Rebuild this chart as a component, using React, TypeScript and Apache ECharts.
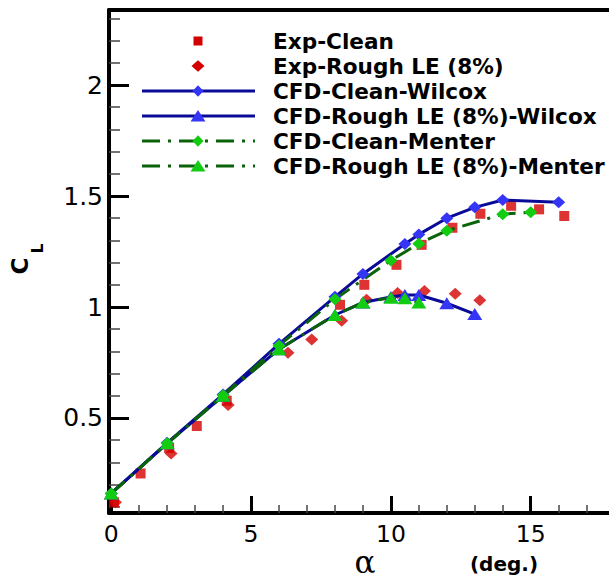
import React, { useEffect, useRef } from "react";
import * as echarts from "echarts";

const expCleanX = [0.1, 1.05, 2.07, 3.06, 4.13, 8.18, 9.05, 10.2, 11.1, 12.2, 13.2, 14.3, 15.3, 16.2];
const expCleanY = [0.12, 0.25, 0.365, 0.464, 0.578, 1.01, 1.1, 1.19, 1.28, 1.357, 1.42, 1.456, 1.44, 1.41];

const expRoughX = [0.15, 2.14, 4.18, 6.32, 7.17, 8.24, 9.13, 10.24, 11.2, 12.3, 13.18];
const expRoughY = [0.12, 0.34, 0.558, 0.794, 0.854, 0.938, 1.033, 1.063, 1.072, 1.06, 1.03];

const wilcoxCleanX = [0, 2, 4, 6, 8, 9, 10.5, 11, 12, 13, 14, 16];
const wilcoxCleanY = [0.16, 0.388, 0.606, 0.834, 1.046, 1.149, 1.284, 1.327, 1.4, 1.449, 1.482, 1.472];

const wilcoxRoughX = [0, 2, 4, 6, 8, 9, 10, 10.5, 11, 12, 13];
const wilcoxRoughY = [0.16, 0.386, 0.6, 0.81, 0.964, 1.02, 1.045, 1.054, 1.054, 1.017, 0.968];

const menterCleanX = [0, 2, 4, 6, 8, 10, 11, 12, 14, 15];
const menterCleanY = [0.16, 0.386, 0.602, 0.826, 1.035, 1.21, 1.285, 1.344, 1.418, 1.427];

const menterRoughX = [0, 2, 4, 6, 8, 9, 10, 10.5, 11];
const menterRoughY = [0.16, 0.386, 0.6, 0.81, 0.964, 1.02, 1.042, 1.04, 1.02];

const seriesNames = [
  "Exp-Clean",
  "Exp-Rough LE (8%)",
  "CFD-Clean-Wilcox",
  "CFD-Rough LE (8%)-Wilcox",
  "CFD-Clean-Menter",
  "CFD-Rough LE (8%)-Menter",
];

const xMajorTicks = [0, 5, 10, 15];
const xMinorTicks = [1, 2, 3, 4, 6, 7, 8, 9, 11, 12, 13, 14, 16, 17];
const yMajorTicks = [0.5, 1, 1.5, 2];
const yMinorTicks = [0.1, 0.2, 0.3, 0.4, 0.6, 0.7, 0.8, 0.9, 1.1, 1.2, 1.3, 1.4, 1.6, 1.7, 1.8, 1.9, 2.1, 2.2, 2.3];

const X_MIN = -0.08;
const X_MAX = 17.8;
const Y_MIN = 0.072;
const Y_MAX = 2.338;

const RED = "#d40000";
const BLUE_LINE = "#0a0a98";
const BLUE_MARK = "#3535f5";
const GREEN_LINE = "#0a620a";
const GREEN_MARK = "#12cc12";
const DASHDOT = [18, 8, 3, 8];

const zip = (xs: number[], ys: number[]) => xs.map((x, i) => [x, ys[i]]);

export default function App() {
  const ref = useRef<HTMLDivElement>(null);

  useEffect(() => {
    if (!ref.current) return;
    const chart = echarts.init(ref.current, undefined, { renderer: "svg" });

    const font = "DejaVu Sans";
    const baseX = {
      type: "value",
      min: X_MIN,
      max: X_MAX,
      splitLine: { show: false },
    };
    const baseY = {
      type: "value",
      min: Y_MIN,
      max: Y_MAX,
      splitLine: { show: false },
    };

    // legend drawn as graphic
    const legendLeft = 142;
    const legendRight = 255;
    const legendSymX = 198;
    const legendTextX = 273;
    const legendTop = 41;
    const legendGap = 25;
    const legendKinds = [
      { line: null, sym: "square", color: RED },
      { line: null, sym: "diamondBig", color: RED },
      { line: "solid", sym: "diamond", color: BLUE_MARK },
      { line: "solid", sym: "triangle", color: BLUE_MARK },
      { line: "dash", sym: "diamond", color: GREEN_MARK },
      { line: "dash", sym: "triangle", color: GREEN_MARK },
    ];
    const graphics: any[] = [];
    seriesNames.forEach((name, i) => {
      const cy = legendTop + i * legendGap;
      const k = legendKinds[i];
      if (k.line) {
        graphics.push({
          type: "line",
          shape: { x1: legendLeft, y1: cy, x2: legendRight, y2: cy },
          style: {
            stroke: k.line === "solid" ? BLUE_LINE : GREEN_LINE,
            lineWidth: 3,
            lineDash: k.line === "solid" ? null : DASHDOT,
          },
        });
      }
      if (k.sym === "square") {
        graphics.push({
          type: "rect",
          shape: { x: legendSymX - 4.5, y: cy - 4.5, width: 9, height: 9 },
          style: { fill: k.color },
        });
      } else if (k.sym === "diamondBig" || k.sym === "diamond") {
        const w = k.sym === "diamondBig" ? 6.5 : 5.5;
        const h = 5.8;
        graphics.push({
          type: "polygon",
          shape: {
            points: [
              [legendSymX, cy - h],
              [legendSymX + w, cy],
              [legendSymX, cy + h],
              [legendSymX - w, cy],
            ],
          },
          style: { fill: k.color },
        });
      } else {
        graphics.push({
          type: "polygon",
          shape: {
            points: [
              [legendSymX, cy - 6],
              [legendSymX + 7.5, cy + 5.5],
              [legendSymX - 7.5, cy + 5.5],
            ],
          },
          style: { fill: k.color },
        });
      }
      graphics.push({
        type: "text",
        x: legendTextX,
        y: cy,
        style: {
          text: name,
          font: `bold 21.6px "${font}"`,
          fill: "#000",
          textAlign: "left",
          textVerticalAlign: "middle",
        },
      });
    });

    graphics.push(
      {
        type: "text",
        x: 20,
        y: 266,
        rotation: Math.PI / 2,
        style: {
          text: "C",
          font: `bold 23px "${font}"`,
          fill: "#000",
          textAlign: "center",
          textVerticalAlign: "middle",
        },
      },
      {
        type: "text",
        x: 37.5,
        y: 248.5,
        rotation: Math.PI / 2,
        style: {
          text: "L",
          font: `bold 15px "${font}"`,
          fill: "#000",
          textAlign: "center",
          textVerticalAlign: "middle",
        },
      },
      {
        type: "text",
        x: 365,
        y: 562,
        style: {
          text: "α",
          font: `31px "DejaVu Serif"`,
          fill: "#000",
          textAlign: "center",
          textVerticalAlign: "middle",
        },
      },
      {
        type: "text",
        x: 504,
        y: 564,
        style: {
          text: "(deg.)",
          font: `bold 20px "${font}"`,
          fill: "#000",
          textAlign: "center",
          textVerticalAlign: "middle",
        },
      }
    );

    const option: any = {
      animation: false,
      backgroundColor: "#fff",
      grid: { left: 109, right: 0, top: 10, bottom: 66, containLabel: false },
      xAxis: [
        {
          ...baseX,
          position: "bottom",
          axisLine: { show: true, onZero: false, lineStyle: { color: "#000", width: 4 } },
          axisTick: {
            show: true,
            inside: true,
            length: 17,
            customValues: xMajorTicks,
            lineStyle: { color: "#000", width: 3 },
          },
          axisLabel: {
            show: true,
            customValues: xMajorTicks,
            color: "#000",
            fontFamily: font,
            fontSize: 23.5,
            margin: 9,
          },
        },
        {
          ...baseX,
          position: "bottom",
          axisLine: { show: false, onZero: false },
          axisTick: {
            show: true,
            inside: true,
            length: 8,
            customValues: xMinorTicks,
            lineStyle: { color: "#444", width: 1.5 },
          },
          axisLabel: { show: false },
        },
        {
          ...baseX,
          position: "top",
          axisLine: { show: true, onZero: false, lineStyle: { color: "#000", width: 4 } },
          axisTick: { show: false },
          axisLabel: { show: false },
        },
      ],
      yAxis: [
        {
          ...baseY,
          position: "left",
          axisLine: { show: true, onZero: false, lineStyle: { color: "#000", width: 4 } },
          axisTick: {
            show: true,
            inside: true,
            length: 20,
            customValues: yMajorTicks,
            lineStyle: { color: "#000", width: 3 },
          },
          axisLabel: {
            show: true,
            customValues: yMajorTicks,
            color: "#000",
            fontFamily: font,
            fontSize: 25,
            margin: 6,
          },
        },
        {
          ...baseY,
          position: "left",
          axisLine: { show: false, onZero: false },
          axisTick: {
            show: true,
            inside: true,
            length: 11,
            customValues: yMinorTicks,
            lineStyle: { color: "#444", width: 1.5 },
          },
          axisLabel: { show: false },
        },
      ],
      graphic: graphics,
      series: [
        {
          name: seriesNames[0],
          type: "scatter",
          data: zip(expCleanX, expCleanY),
          symbol: "rect",
          symbolSize: [10, 10],
          itemStyle: { color: RED },
        },
        {
          name: seriesNames[1],
          type: "scatter",
          data: zip(expRoughX, expRoughY),
          symbol: "diamond",
          symbolSize: [13, 12],
          itemStyle: { color: RED },
        },
        {
          name: seriesNames[2],
          type: "line",
          data: zip(wilcoxCleanX, wilcoxCleanY),
          symbol: "diamond",
          symbolSize: [13, 12],
          showAllSymbol: true,
          itemStyle: { color: BLUE_MARK },
          lineStyle: { color: BLUE_LINE, width: 3 },
        },
        {
          name: seriesNames[3],
          type: "line",
          data: zip(wilcoxRoughX, wilcoxRoughY),
          symbol: "triangle",
          symbolSize: [15, 12],
          showAllSymbol: true,
          itemStyle: { color: BLUE_MARK },
          lineStyle: { color: BLUE_LINE, width: 3 },
        },
        {
          name: seriesNames[4],
          type: "line",
          data: zip(menterCleanX, menterCleanY),
          symbol: "diamond",
          symbolSize: [13, 12],
          showAllSymbol: true,
          itemStyle: { color: GREEN_MARK },
          lineStyle: { color: GREEN_LINE, width: 3, type: DASHDOT },
        },
        {
          name: seriesNames[5],
          type: "line",
          data: zip(menterRoughX, menterRoughY),
          symbol: "triangle",
          symbolSize: [15, 12],
          showAllSymbol: true,
          itemStyle: { color: GREEN_MARK },
          lineStyle: { color: GREEN_LINE, width: 3, type: DASHDOT },
        },
      ],
    };

    chart.setOption(option);
    return () => chart.dispose();
  }, []);

  return (
    <div
      ref={ref}
      style={{ position: "absolute", left: 0, top: 0, width: 609, height: 579 }}
    />
  );
}
